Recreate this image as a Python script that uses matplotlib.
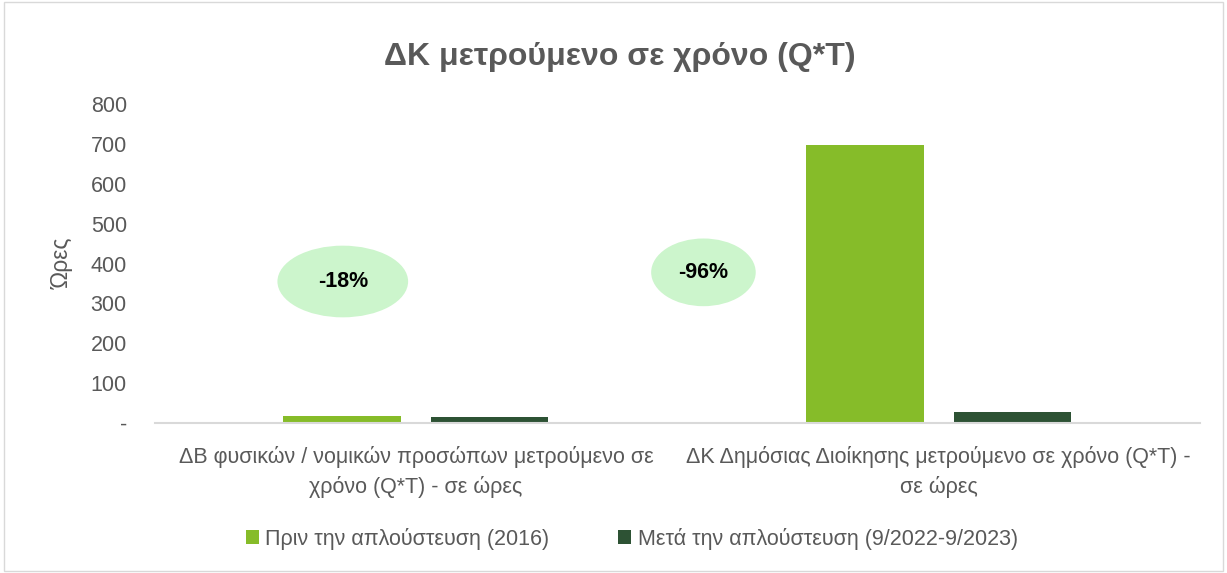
import matplotlib
matplotlib.use("Agg")
import matplotlib.pyplot as plt
from matplotlib.patches import Ellipse, Rectangle
import numpy as np

plt.rcParams['font.family'] = ['Liberation Sans', 'DejaVu Sans']

categories = ["ΔΒ φυσικών / νομικών προσώπων μετρούμενο σε\nχρόνο (Q*T) - σε ώρες",
              "ΔΚ Δημόσιας Διοίκησης μετρούμενο σε χρόνο (Q*T) -\nσε ώρες"]
series_names = ["Πριν την απλούστευση (2016)", "Μετά την απλούστευση (9/2022-9/2023)"]
before = [17, 697]
after = [14, 27]
changes = ["-18%", "-96%"]
yticks = [0, 100, 200, 300, 400, 500, 600, 700, 800]
ytick_labels = ["-", "100", "200", "300", "400", "500", "600", "700", "800"]

c_before = "#86bc29"
c_after = "#2d5234"
gray = "#595959"

fig = plt.figure(figsize=(12.27, 5.73), dpi=100)
ax = fig.add_axes([0.126, 0.262, 0.852, 0.556])

x = np.arange(len(categories))
w = 0.225
gap = 0.057
ax.bar(x - (w + gap) / 2, before, w, color=c_before, label=series_names[0])
ax.bar(x + (w + gap) / 2, after, w, color=c_after, label=series_names[1])

ax.set_xlim(-0.5, 1.5)
ax.set_ylim(0, 800)
ax.set_yticks(yticks)
ax.set_yticklabels(ytick_labels, fontsize=15.5, color=gray)
ax.set_xticks(x)
ax.set_xticklabels(categories, fontsize=15.5, color=gray, linespacing=1.42)
ax.tick_params(axis='y', length=0, pad=20)
ax.tick_params(axis='x', length=0, pad=17)
for s in ['top', 'right', 'left']:
    ax.spines[s].set_visible(False)
ax.spines['bottom'].set_color('#d9d9d9')
ax.spines['bottom'].set_linewidth(1.5)
ax.set_ylabel("Ώρες", fontsize=16.5, color=gray, labelpad=12)

# ellipses with change annotations
ell_pos = [(-0.14, 355, 0.25, 180), (0.55, 378, 0.2, 170)]
for (ex, ey, ew, eh), txt in zip(ell_pos, changes):
    ax.add_patch(Ellipse((ex, ey), ew, eh, facecolor="#ccf5cc", edgecolor='none', zorder=3, clip_on=False))
    ax.text(ex, ey, txt, ha='center', va='center', fontsize=15.5, fontweight='bold', color='black', zorder=4)

fig.text(0.505, 0.9, "ΔΚ μετρούμενο σε χρόνο (Q*T)", ha='center', va='center',
         fontsize=23, fontweight='bold', color=gray)

leg = fig.legend(loc='center', bbox_to_anchor=(0.515, 0.06), ncol=2, frameon=False,
                 fontsize=15.5, handlelength=0.6, handleheight=0.6, columnspacing=3.2, handletextpad=0.3)
for t in leg.get_texts():
    t.set_color(gray)

fig.patches.append(Rectangle((0.003, 0.003), 0.994, 0.994, transform=fig.transFigure,
                             fill=False, edgecolor='#d9d9d9', linewidth=1))

fig.savefig("out.png", dpi=100)
